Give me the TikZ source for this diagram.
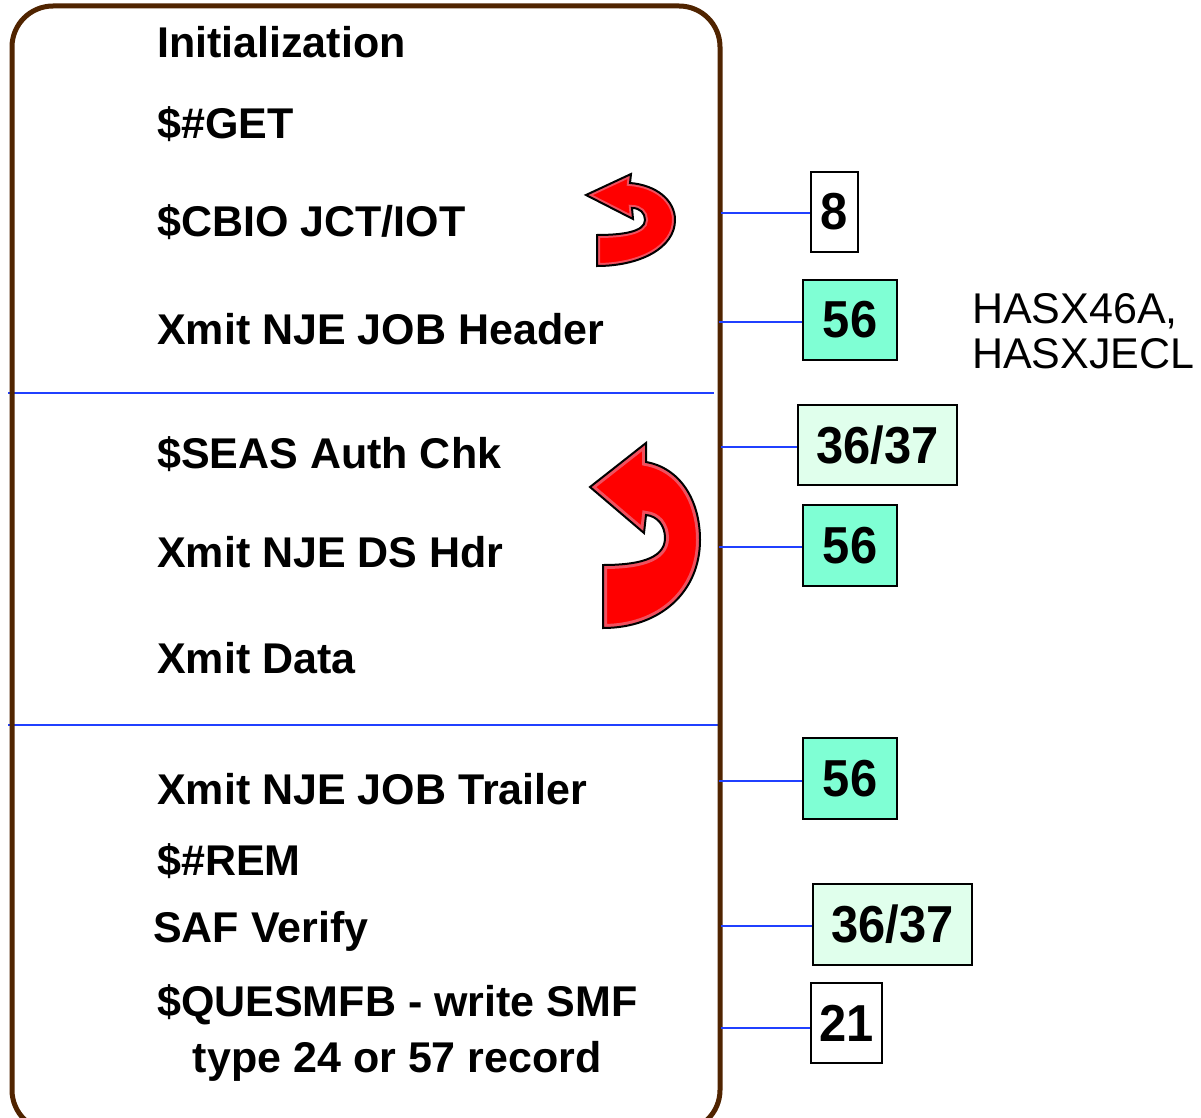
\documentclass[tikz,border=0pt]{standalone}
\usepackage{fontspec}
\setmainfont{Liberation Sans}
\newfontfamily\numfont[FakeStretch=0.94]{Liberation Sans}
\definecolor{framebrown}{RGB}{80,36,0}
\definecolor{lineblue}{RGB}{32,64,255}
\definecolor{aqua}{RGB}{127,255,212}
\definecolor{mint}{RGB}{224,255,236}
\definecolor{bevelred}{RGB}{240,80,95}
\newcommand{\arrowpathA}{(586,195) -- (631,174) -- (630,183)
  .. controls (656,185) and (675,200) .. (675,220)
  .. controls (675,248) and (640,266) .. (597,266)
  -- (597,235)
  .. controls (622,235) and (645,232) .. (645,220)
  .. controls (645,213) and (640,208) .. (632,208)
  -- (633,219) -- cycle}
\newcommand{\arrowpathB}{(590,487) -- (646,443) -- (646,462)
  .. controls (680,468) and (700,500) .. (700,540)
  .. controls (700,592) and (660,628) .. (603,628)
  -- (603,565)
  .. controls (635,565) and (665,560) .. (665,538)
  .. controls (665,525) and (657,516) .. (646,515)
  -- (644,533) -- cycle}
\begin{document}
\begin{tikzpicture}[x=1pt,y=-1pt,
  lbl/.style={anchor=base west, inner sep=0pt, font=\bfseries\fontsize{43}{50}\selectfont},
  side/.style={anchor=base west, inner sep=0pt, font=\fontsize{43}{50}\selectfont},
  num/.style={draw=black, line width=2pt, inner sep=0pt, font=\numfont\bfseries\fontsize{52}{58}\selectfont},
  conn/.style={draw=lineblue, line width=2pt},
  uturnline/.style={draw=black, line width=2pt, line join=miter}]
\useasboundingbox (0,0) rectangle (1201,1118);
\fill[white] (0,0) rectangle (1201,1118);

% dividers
\draw[conn] (8,393) -- (714,393);
\draw[conn] (8,725) -- (718,725);

% frame
\draw[framebrown, line width=5pt, rounded corners=41pt] (12,6) rectangle (720,1131);

% left texts
\node[lbl] (t1) at (157,58) {Initialization};
\node[lbl] (t2) at (157,139) {\$\#GET};
\node[lbl] (t3) at (157,236) {\$CBIO JCT/IOT};
\node[lbl] (t4) at (157,344) {Xmit NJE JOB Header};
\node[lbl] (t5) at (157,468) {\$SEAS Auth Chk};
\node[lbl] (t6) at (157,567) {Xmit NJE DS Hdr};
\node[lbl] (t7) at (157,673) {Xmit Data};
\node[lbl] (t8) at (157,804) {Xmit NJE JOB Trailer};
\node[lbl] (t9) at (157,875) {\$\#REM};
\node[lbl] (t10) at (153,942) {SAF Verify};
\node[lbl] (t11) at (157,1016) {\$QUESMFB - write SMF};
\node[lbl, anchor=base] (t12) at (t11.center |- 0,1072) {type 24 or 57 record};

% side text
\node[side] (s1) at (972,323) {HASX46A,};
\node[side] (s2) at (972,368) {HASXJECL};

% number boxes
\node[num, fill=white, minimum width=47pt, minimum height=80pt] (n1) at (834.5,212) {8};
\node[num, fill=aqua, minimum width=94pt, minimum height=80pt] (n2) at (850,320) {56};
\node[num, fill=mint, minimum width=159pt, minimum height=80pt] (n3) at (877.5,445) {36/37};
\node[num, fill=aqua, minimum width=94pt, minimum height=81pt] (n4) at (850,545.5) {56};
\node[num, fill=aqua, minimum width=94pt, minimum height=81pt] (n5) at (850,778.5) {56};
\node[num, fill=mint, minimum width=159pt, minimum height=81pt] (n6) at (892.5,924.5) {36/37};
\node[num, fill=white, minimum width=71pt, minimum height=80pt] (n7) at (846.5,1023) {21};

% connectors
\coordinate (c1) at (721,213);
\coordinate (c2) at (719,322);
\coordinate (c3) at (721,447);
\coordinate (c4) at (719,547);
\coordinate (c5) at (719,781);
\coordinate (c6) at (721,926);
\coordinate (c7) at (721,1028);
\draw[conn] (c1) -- (c1 -| n1.west);
\draw[conn] (c2) -- (c2 -| n2.west);
\draw[conn] (c3) -- (c3 -| n3.west);
\draw[conn] (c4) -- (c4 -| n4.west);
\draw[conn] (c5) -- (c5 -| n5.west);
\draw[conn] (c6) -- (c6 -| n6.west);
\draw[conn] (c7) -- (c7 -| n7.west);

% u-turn arrows
\begin{scope}
  \clip \arrowpathA;
  \fill[red] \arrowpathA;
  \draw[bevelred, line width=6pt] \arrowpathA;
\end{scope}
\draw[uturnline] \arrowpathA;
\begin{scope}
  \clip \arrowpathB;
  \fill[red] \arrowpathB;
  \draw[bevelred, line width=8pt] \arrowpathB;
\end{scope}
\draw[uturnline] \arrowpathB;
\end{tikzpicture}
\end{document}
